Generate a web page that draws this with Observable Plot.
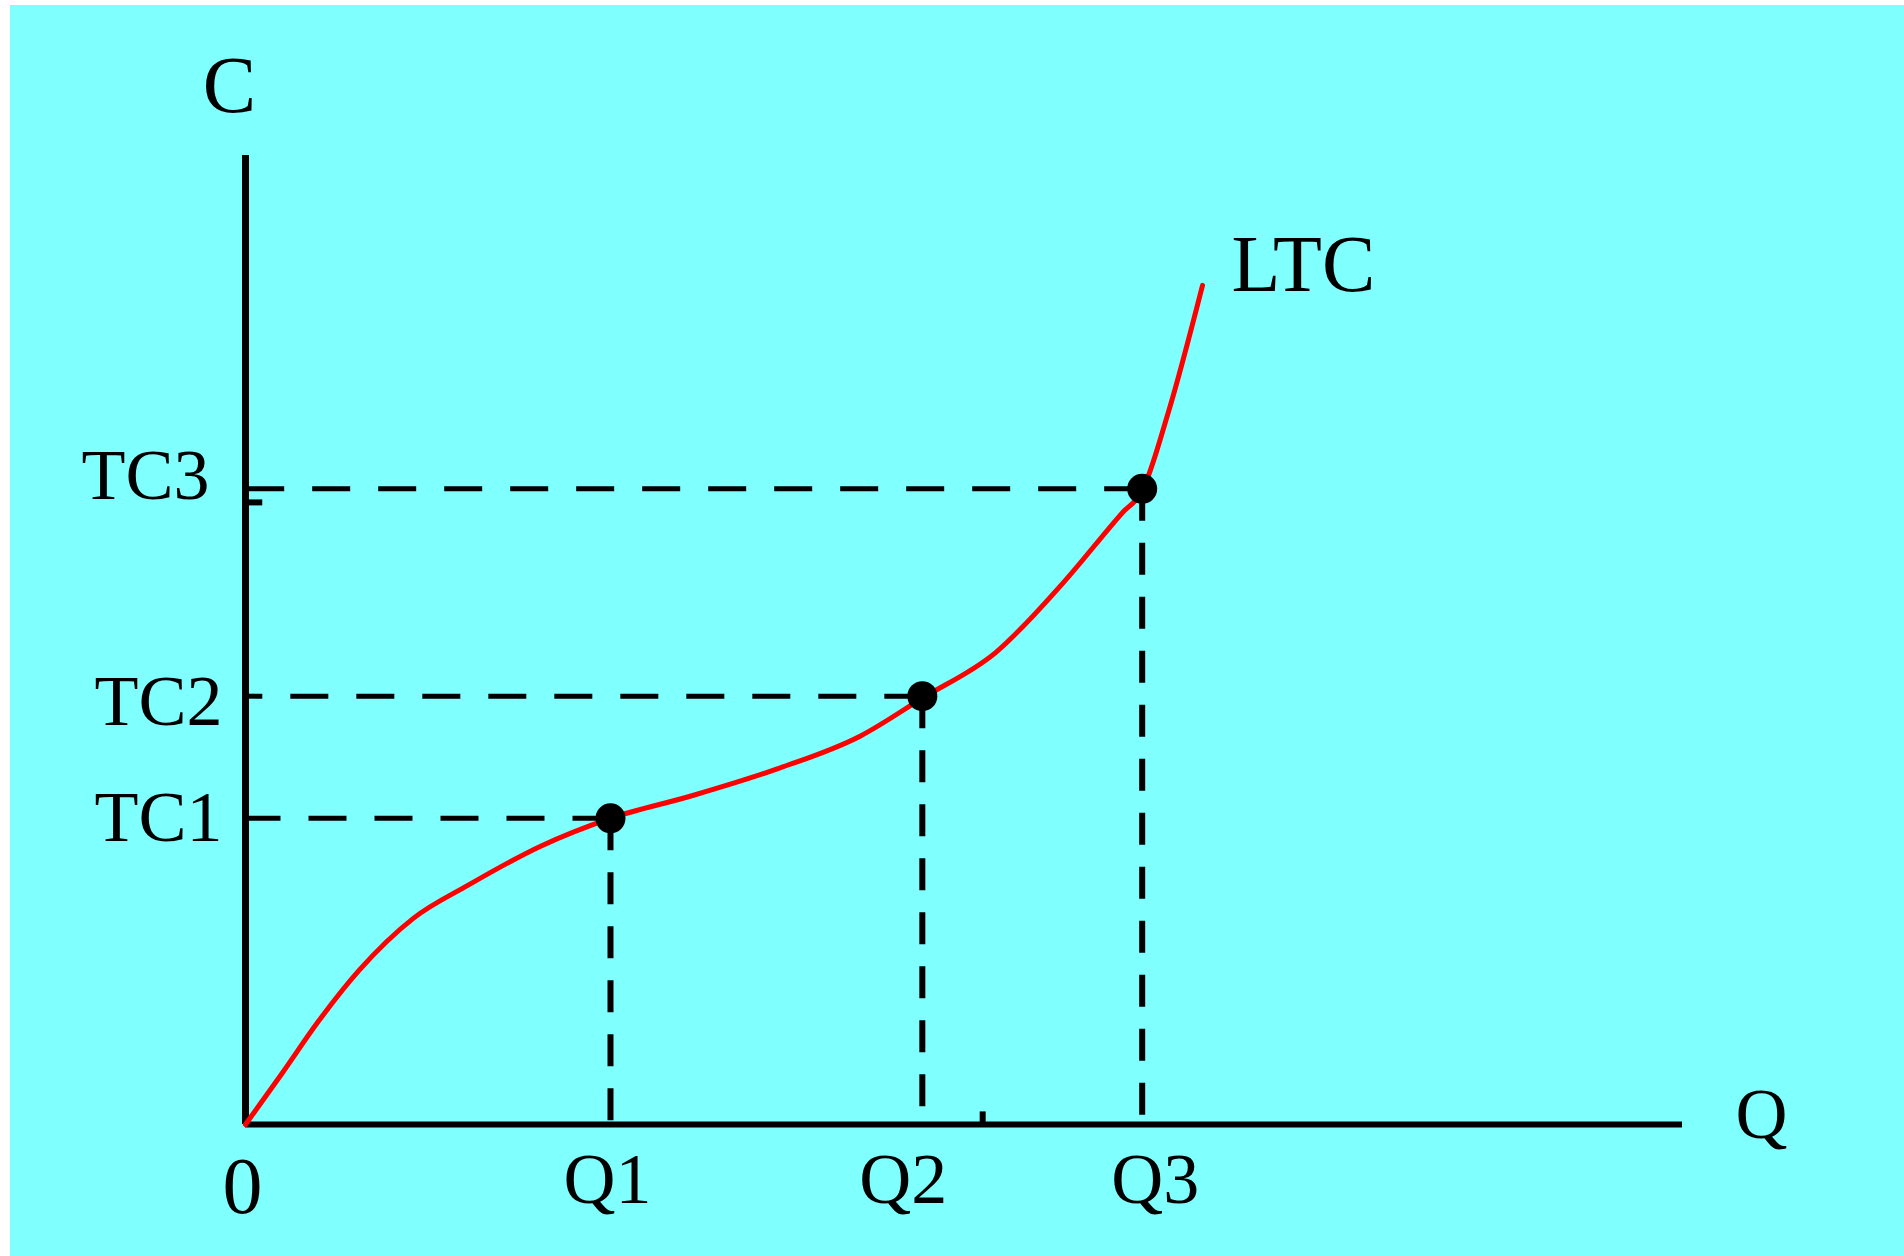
<!DOCTYPE html>
<html>
<head>
<meta charset="utf-8">
<script src="https://cdn.jsdelivr.net/npm/d3@7"></script>
<script src="https://cdn.jsdelivr.net/npm/@observablehq/plot@0.6"></script>
<style>
html, body { margin: 0; padding: 0; background: #ffffff; overflow: hidden; width: 1904px; height: 1256px; }
#chart { position: absolute; left: 10px; top: 5px; width: 1894px; height: 1251px; }
#chart svg { display: block; max-width: none; }
</style>
</head>
<body>
<div id="chart"></div>
<script>
// Output levels on the Q axis and their labels
const qValues = [25.4, 47.1, 62.4];
const qLabels = ["Q1", "Q2", "Q3"];
// Total cost levels on the C axis and their labels
const tcValues = [31.6, 44.2, 65.6];
const tcLabels = ["TC1", "TC2", "TC3"];
// Long-run total cost curve (LTC)
const curveQ = [0, 2.6, 5.1, 7.9, 11.7, 15.5, 20.5, 25.4, 31.0, 37.0, 42.8, 47.1, 52.2, 56.9, 61.0, 62.4, 64.2, 66.6];
const curveC = [0, 5.4, 10.7, 15.9, 21.3, 24.7, 28.7, 31.6, 33.9, 36.7, 40.1, 44.0, 48.7, 55.9, 63.1, 65.4, 73.4, 86.6];
const curveName = "LTC";
// Axis titles and origin label
const xTitle = "Q";
const yTitle = "C";
const originLabel = "0";
// Stray small tick marks visible on the axes
const minorQTicks = [51.3];
const minorCTicks = [64.2];

const idx = qValues.map((_, i) => i);
const curve = curveQ.map((q, i) => ({q, c: curveC[i]}));
const last = curve[curve.length - 1];

const font = "'Liberation Serif', 'Times New Roman', serif";

const tcOffsets = [[-23, 0], [-23, 6], [-36, -13]];
const qOffsets = [-3, -19, 13];

const marks = [
  Plot.ruleY([0], {stroke: "black", strokeWidth: 6}),
  Plot.ruleX([0], {stroke: "black", strokeWidth: 7}),
  Plot.ruleX(minorQTicks, {y1: 0, y2: 1.3, stroke: "black", strokeWidth: 6}),
  Plot.ruleY(minorCTicks, {x1: 0, x2: 1.2, stroke: "black", strokeWidth: 6}),
  Plot.link(idx, {x1: i => qValues[i], y1: i => tcValues[i], x2: 0, y2: i => tcValues[i],
    stroke: "black", strokeWidth: 5, strokeDasharray: "38,28"}),
  Plot.link(idx, {x1: i => qValues[i], y1: i => tcValues[i], x2: i => qValues[i], y2: 0,
    stroke: "black", strokeWidth: 6, strokeDasharray: "32,22"}),
  Plot.line(curve, {x: "q", y: "c", stroke: "#FF0000", strokeWidth: 5, curve: "monotone-x"}),
  Plot.dot(idx, {x: i => qValues[i], y: i => tcValues[i], r: 15, fill: "black"}),
];

idx.forEach(i => {
  marks.push(Plot.text([tcLabels[i]], {x: 0, y: tcValues[i], text: d => d, textAnchor: "end",
    lineAnchor: "middle", dx: tcOffsets[i][0], dy: tcOffsets[i][1], fontSize: 72, fill: "black"}));
  marks.push(Plot.text([qLabels[i]], {x: qValues[i], y: 0, text: d => d, textAnchor: "middle",
    lineAnchor: "top", dx: qOffsets[i], dy: 27, fontSize: 72, fill: "black"}));
});

marks.push(
  Plot.text([originLabel], {x: 0, y: 0, text: d => d, textAnchor: "middle", lineAnchor: "top",
    dx: -3, dy: 32, fontSize: 80, fill: "black"}),
  Plot.text([yTitle], {x: 0, y: 100, text: d => d, textAnchor: "middle", lineAnchor: "top",
    dx: -16, dy: -100, fontSize: 80, fill: "black"}),
  Plot.text([xTitle], {x: 100, y: 0, text: d => d, textAnchor: "middle", lineAnchor: "top",
    dx: 79, dy: -38, fontSize: 72, fill: "black"}),
  Plot.text([curveName], {x: last.q, y: last.c, text: d => d, textAnchor: "start", lineAnchor: "top",
    dx: 29, dy: -51, fontSize: 80, fill: "black"})
);

const chart = Plot.plot({
  width: 1894,
  height: 1251,
  marginLeft: 235,
  marginRight: 222,
  marginTop: 150,
  marginBottom: 132,
  x: {domain: [0, 100], axis: null},
  y: {domain: [0, 100], axis: null},
  style: {background: "#80FFFF", fontFamily: font, overflow: "visible"},
  marks
});
document.getElementById("chart").appendChild(chart);
</script>
</body>
</html>
